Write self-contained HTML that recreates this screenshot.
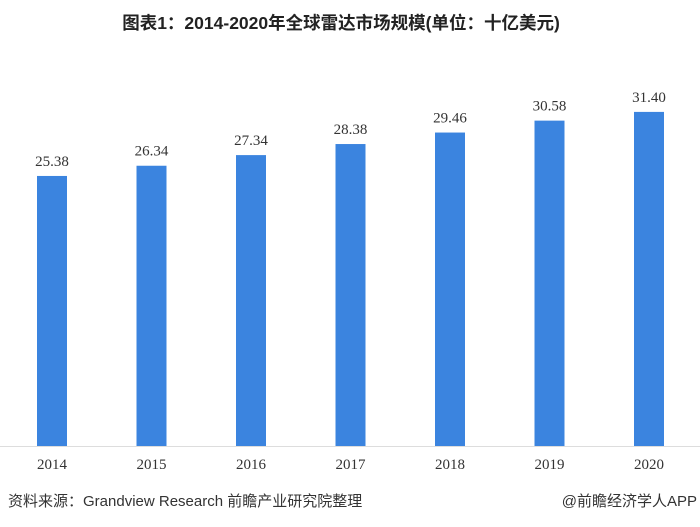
<!DOCTYPE html>
<html><head><meta charset="utf-8"><style>
body{margin:0;width:700px;height:522px;background:#fff;overflow:hidden;font-family:"Liberation Sans","Noto Sans CJK SC",sans-serif}
</style></head><body>
<svg width="700" height="522">
<text x="341" y="29" text-anchor="middle" font-size="17.5" font-weight="bold" fill="#222" font-family="Liberation Sans,Noto Sans CJK SC,sans-serif">图表1：2014-2020年全球雷达市场规模(单位：十亿美元)</text>
<g id="bars"></g>
<line x1="0" y1="446.5" x2="700" y2="446.5" stroke="#ddd" stroke-width="1"/>
<text x="8" y="506" font-size="15" fill="#333" font-family="Liberation Sans,Noto Sans CJK SC,sans-serif">资料来源：Grandview Research 前瞻产业研究院整理</text>
<text x="697" y="506" text-anchor="end" font-size="15" fill="#333" font-family="Liberation Sans,Noto Sans CJK SC,sans-serif">@前瞻经济学人APP</text>
</svg>
<script>
const categories=["2014","2015","2016","2017","2018","2019","2020"];
const values=[25.38,26.34,27.34,28.38,29.46,30.58,31.40];
const labels=["25.38","26.34","27.34","28.38","29.46","30.58","31.40"];
const NS="http://www.w3.org/2000/svg";
const g=document.getElementById('bars');
const x=i=>52+i*99.5;
const y=v=>446-v*10.64;
categories.forEach((c,i)=>{
  const r=document.createElementNS(NS,'rect');
  r.setAttribute('x',x(i)-15);r.setAttribute('width',30);
  r.setAttribute('y',y(values[i]));r.setAttribute('height',446-y(values[i]));
  r.setAttribute('fill','#3b84df');
  
  
  g.appendChild(r);
  const t=document.createElementNS(NS,'text');
  t.setAttribute('x',x(i));t.setAttribute('y',y(values[i])-10);
  t.setAttribute('text-anchor','middle');t.setAttribute('font-size','15');
  t.setAttribute('fill','#333');t.setAttribute('font-family','Liberation Serif,serif');
  t.textContent=labels[i];
  
  
  g.appendChild(t);
  const xl=document.createElementNS(NS,'text');
  xl.setAttribute('x',x(i));xl.setAttribute('y',469);
  xl.setAttribute('text-anchor','middle');xl.setAttribute('font-size','15');
  xl.setAttribute('fill','#333');xl.setAttribute('font-family','Liberation Serif,serif');
  xl.textContent=c;
  
  
  g.appendChild(xl);
});
</script>
</body></html>
